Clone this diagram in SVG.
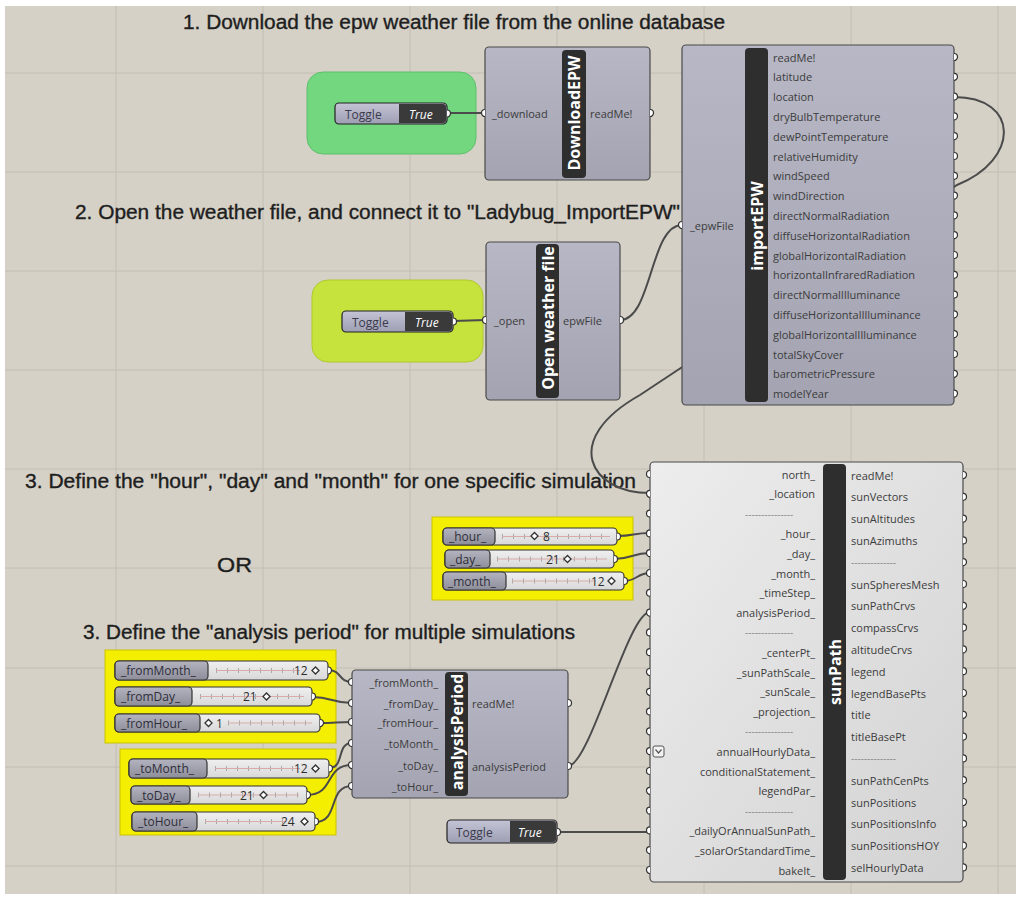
<svg xmlns="http://www.w3.org/2000/svg" width="1022" height="899" viewBox="0 0 1022 899">
<defs>
<linearGradient id="gBody" x1="0" y1="0" x2="0" y2="1"><stop offset="0" stop-color="#b7b7c5"/><stop offset="1" stop-color="#a3a3b1"/></linearGradient>
<linearGradient id="gSun" x1="0" y1="0" x2="1" y2="1"><stop offset="0" stop-color="#ededed"/><stop offset="1" stop-color="#d2d2d2"/></linearGradient>
<linearGradient id="gLab" x1="0" y1="0" x2="0" y2="1"><stop offset="0" stop-color="#b4b4c0"/><stop offset="1" stop-color="#8e8e9a"/></linearGradient>
<linearGradient id="gTog" x1="0" y1="0" x2="0" y2="1"><stop offset="0" stop-color="#c4c4d6"/><stop offset="1" stop-color="#9e9eb4"/></linearGradient>
<linearGradient id="gVal" x1="0" y1="0" x2="0" y2="1"><stop offset="0" stop-color="#f0f0f0"/><stop offset="1" stop-color="#d8d8d8"/></linearGradient>
</defs>
<style>
.bg{fill:#d5d1c7}
.grid{stroke:#c2beb3;stroke-width:1}
.h{font-family:"Liberation Sans",Arial,sans-serif;font-size:19.5px;fill:#1e1e1e;stroke:#1e1e1e;stroke-width:0.35}
.body{fill:url(#gBody);stroke:#4a4a4a;stroke-width:1.2}
.sun{fill:url(#gSun);stroke:#4a4a4a;stroke-width:1.2}
.bar{fill:#2e2e2e}
.title{font-family:"Open Sans","DejaVu Sans",sans-serif;font-size:16px;font-weight:bold;fill:#ffffff}
.t{font-family:"Open Sans","DejaVu Sans",sans-serif;font-size:11px;fill:#3c3c3c;dominant-baseline:central}
.te{font-family:"Open Sans","DejaVu Sans",sans-serif;font-size:11px;fill:#3c3c3c;dominant-baseline:central;text-anchor:end}
.sep{font-family:"Open Sans","DejaVu Sans",sans-serif;font-size:10px;fill:#8a8a8a;dominant-baseline:central}
.port{fill:#ffffff;stroke:#333333;stroke-width:1.2}
.wire{fill:none;stroke:#4b4b4b;stroke-width:2}
.tog{fill:url(#gTog);stroke:#222;stroke-width:1.2}
.togd{fill:#3a3a3a}
.togt{font-family:"Open Sans","DejaVu Sans",sans-serif;font-size:12px;fill:#3a3a4a;dominant-baseline:central}
.togv{font-family:"Open Sans","DejaVu Sans",sans-serif;font-size:12px;font-style:italic;fill:#ffffff;dominant-baseline:central}
.sl{fill:url(#gVal);stroke:#333;stroke-width:1.2}
.sll{fill:url(#gLab);stroke:#333;stroke-width:1.2}
.slt{font-family:"Open Sans","DejaVu Sans",sans-serif;font-size:12px;fill:#2e2e3a;dominant-baseline:central}
.track{stroke:#d9aaaa;stroke-width:1}
.ticks{stroke:#a8a8a8;stroke-width:5;stroke-dasharray:1 10}
.val{font-family:"Open Sans","DejaVu Sans",sans-serif;font-size:12px;fill:#2e2e2e;dominant-baseline:central}
.dia{fill:#ffffff;stroke:#333;stroke-width:1.3}
.grpY{fill:#f4ee00;stroke:#c9c300;stroke-width:1}
</style>
<rect x="0" y="0" width="1022" height="899" fill="#ffffff"/>
<rect class="bg" x="5" y="6" width="1011" height="888"/>
<g id="grid">
<line class="grid" x1="116" y1="6" x2="116" y2="894"/>
<line class="grid" x1="263" y1="6" x2="263" y2="894"/>
<line class="grid" x1="410" y1="6" x2="410" y2="894"/>
<line class="grid" x1="557" y1="6" x2="557" y2="894"/>
<line class="grid" x1="704" y1="6" x2="704" y2="894"/>
<line class="grid" x1="851" y1="6" x2="851" y2="894"/>
<line class="grid" x1="998" y1="6" x2="998" y2="894"/>
<line class="grid" x1="5" y1="73" x2="1016" y2="73"/>
<line class="grid" x1="5" y1="172" x2="1016" y2="172"/>
<line class="grid" x1="5" y1="271" x2="1016" y2="271"/>
<line class="grid" x1="5" y1="370" x2="1016" y2="370"/>
<line class="grid" x1="5" y1="469" x2="1016" y2="469"/>
<line class="grid" x1="5" y1="568" x2="1016" y2="568"/>
<line class="grid" x1="5" y1="668" x2="1016" y2="668"/>
<line class="grid" x1="5" y1="767" x2="1016" y2="767"/>
<line class="grid" x1="5" y1="866" x2="1016" y2="866"/>
</g>
<g id="headings">
<text class="h" x="183" y="29" textLength="542" lengthAdjust="spacingAndGlyphs">1. Download the epw weather file from the online database</text>
<text class="h" x="75" y="219" textLength="605" lengthAdjust="spacingAndGlyphs">2. Open the weather file, and connect it to "Ladybug_ImportEPW"</text>
<text class="h" x="25" y="488" textLength="611" lengthAdjust="spacingAndGlyphs">3. Define the "hour", "day" and "month" for one specific simulation</text>
<text class="h" x="217" y="572" style="font-size:20px" textLength="35" lengthAdjust="spacingAndGlyphs">OR</text>
<text class="h" x="83" y="639" textLength="492" lengthAdjust="spacingAndGlyphs">3. Define the "analysis period" for multiple simulations</text>
</g>
<g id="groups">
<rect x="307" y="72" width="169" height="82" rx="16" fill="#72d77f" stroke="#5fbf6c"/>
<rect x="312" y="280" width="171" height="82" rx="16" fill="#c6e23c" stroke="#afc92f"/>
<rect class="grpY" x="432" y="517" width="201" height="83"/>
<rect class="grpY" x="105" y="650" width="231" height="93"/>
<rect class="grpY" x="120" y="749" width="216" height="86"/>
</g>
<g id="connectors">
<path class="wire" d="M447,113 L485,113"/>
<path class="wire" d="M453,321 L486,320"/>
<path class="wire" d="M620,320 C652,320 650,225 682,225"/>
<path class="wire" d="M954,97 C1020,97 1020,160 957,185 L640,395 C560,440 590,493 650,493"/>
<path class="wire" d="M617,536 C634,536 633,533 650,533"/>
<path class="wire" d="M614,559 C632,559 632,553 650,553"/>
<path class="wire" d="M624,581 C637,581 637,573 650,573"/>
<path class="wire" d="M568,766 C590,766 628,612 650,612"/>
<path class="wire" d="M328,670 C342,670 338,682 352,682"/>
<path class="wire" d="M312,697 C332,697 332,703 352,703"/>
<path class="wire" d="M320,723 C336,723 336,722 352,722"/>
<path class="wire" d="M329,768 C345,768 336,743 352,743"/>
<path class="wire" d="M307,795 C335,795 324,765 352,765"/>
<path class="wire" d="M315,822 C340,822 327,786 352,786"/>
<path class="wire" d="M557,832 L650,832"/>
</g>
<g id="toggle1">
<rect class="tog" x="335" y="103" width="112" height="21" rx="4"/>
<path class="togd" d="M399,104 H443 A3,3 0 0 1 446,107 V120 A3,3 0 0 1 443,123 H399 Z"/>
<text class="togt" x="345" y="114">Toggle</text>
<text class="togv" x="409" y="114">True</text>
<path class="port" d="M447,110 A3.5,3.5 0 0 1 447,117"/>
</g>
<g id="downloadEPW">
<rect class="body" x="485" y="47" width="165" height="133" rx="4"/>
<rect class="bar" x="562" y="50" width="24" height="128" rx="4"/>
<text class="title" transform="translate(580,113) rotate(-90)" text-anchor="middle">DownloadEPW</text>
<text class="t" x="492" y="113">_download</text>
<text class="t" x="590" y="113">readMe!</text>
<path class="port" d="M485,109.5 A3.5,3.5 0 0 0 485,116.5"/>
<path class="port" d="M650,109.5 A3.5,3.5 0 0 1 650,116.5"/>
</g>
<g id="toggle2">
<rect class="tog" x="342" y="311" width="111" height="21" rx="4"/>
<path class="togd" d="M405,312 H449 A3,3 0 0 1 452,315 V328 A3,3 0 0 1 449,331 H405 Z"/>
<text class="togt" x="352" y="322">Toggle</text>
<text class="togv" x="415" y="322">True</text>
<path class="port" d="M453,318 A3.5,3.5 0 0 1 453,325"/>
</g>
<g id="openWeatherFile">
<rect class="body" x="486" y="242" width="134" height="158" rx="4"/>
<rect class="bar" x="536" y="244" width="23" height="154" rx="4"/>
<text class="title" transform="translate(553.5,318) rotate(-90)" text-anchor="middle">Open weather file</text>
<text class="t" x="494" y="320">_open</text>
<text class="t" x="563" y="320">epwFile</text>
<path class="port" d="M486,316.5 A3.5,3.5 0 0 0 486,323.5"/>
<path class="port" d="M620,316.5 A3.5,3.5 0 0 1 620,323.5"/>
</g>
<g id="importEPW">
<rect class="body" x="682" y="45" width="272" height="360" rx="4"/>
<rect class="bar" x="745" y="48" width="23" height="354" rx="4"/>
<text class="title" transform="translate(762.5,226) rotate(-90)" text-anchor="middle">importEPW</text>
<text class="t" x="690" y="225">_epwFile</text>
<path class="port" d="M682,221.5 A3.5,3.5 0 0 0 682,228.5"/>
<text class="t" x="773" y="57">readMe!</text>
<text class="t" x="773" y="76.8">latitude</text>
<text class="t" x="773" y="96.6">location</text>
<text class="t" x="773" y="116.4">dryBulbTemperature</text>
<text class="t" x="773" y="136.2">dewPointTemperature</text>
<text class="t" x="773" y="156">relativeHumidity</text>
<text class="t" x="773" y="175.8">windSpeed</text>
<text class="t" x="773" y="195.6">windDirection</text>
<text class="t" x="773" y="215.4">directNormalRadiation</text>
<text class="t" x="773" y="235.2">diffuseHorizontalRadiation</text>
<text class="t" x="773" y="255">globalHorizontalRadiation</text>
<text class="t" x="773" y="274.8">horizontalInfraredRadiation</text>
<text class="t" x="773" y="294.6">directNormalIlluminance</text>
<text class="t" x="773" y="314.4">diffuseHorizontalIlluminance</text>
<text class="t" x="773" y="334.2">globalHorizontalIlluminance</text>
<text class="t" x="773" y="354">totalSkyCover</text>
<text class="t" x="773" y="373.8">barometricPressure</text>
<text class="t" x="773" y="393.6">modelYear</text>
<g>
<path class="port" d="M954,53.5 a3.5,3.5 0 0 1 0,7"/>
<path class="port" d="M954,73.3 a3.5,3.5 0 0 1 0,7"/>
<path class="port" d="M954,93.1 a3.5,3.5 0 0 1 0,7"/>
<path class="port" d="M954,112.9 a3.5,3.5 0 0 1 0,7"/>
<path class="port" d="M954,132.7 a3.5,3.5 0 0 1 0,7"/>
<path class="port" d="M954,152.5 a3.5,3.5 0 0 1 0,7"/>
<path class="port" d="M954,172.3 a3.5,3.5 0 0 1 0,7"/>
<path class="port" d="M954,192.1 a3.5,3.5 0 0 1 0,7"/>
<path class="port" d="M954,211.9 a3.5,3.5 0 0 1 0,7"/>
<path class="port" d="M954,231.7 a3.5,3.5 0 0 1 0,7"/>
<path class="port" d="M954,251.5 a3.5,3.5 0 0 1 0,7"/>
<path class="port" d="M954,271.3 a3.5,3.5 0 0 1 0,7"/>
<path class="port" d="M954,291.1 a3.5,3.5 0 0 1 0,7"/>
<path class="port" d="M954,310.9 a3.5,3.5 0 0 1 0,7"/>
<path class="port" d="M954,330.7 a3.5,3.5 0 0 1 0,7"/>
<path class="port" d="M954,350.5 a3.5,3.5 0 0 1 0,7"/>
<path class="port" d="M954,370.3 a3.5,3.5 0 0 1 0,7"/>
<path class="port" d="M954,390.1 a3.5,3.5 0 0 1 0,7"/>
</g>
</g>
<g id="sliderHour">
<rect class="sl" x="443" y="528" width="174" height="17" rx="4"/>
<rect class="sll" x="443" y="528" width="52" height="17" rx="4"/>
<line class="ticks" x1="502" y1="536.5" x2="610" y2="536.5"/>
<line class="track" x1="502" y1="536.5" x2="610" y2="536.5"/>
<text class="slt" x="449" y="536.5">_hour_</text>
<rect class="dia" x="532" y="533.5" width="5" height="5" transform="rotate(45 534.5 536)"/>
<text class="val" x="543" y="536.5">8</text>
<path class="port" d="M617,533 a3.5,3.5 0 0 1 0,7"/>
</g>
<g id="sliderDay">
<rect class="sl" x="445" y="550" width="169" height="18" rx="4"/>
<rect class="sll" x="445" y="550" width="45" height="18" rx="4"/>
<line class="ticks" x1="497" y1="559" x2="607" y2="559"/>
<line class="track" x1="497" y1="559" x2="607" y2="559"/>
<text class="slt" x="450" y="559">_day_</text>
<text class="val" x="546" y="559">21</text>
<rect class="dia" x="565" y="556.5" width="5" height="5" transform="rotate(45 567.5 559)"/>
<path class="port" d="M614,555.5 a3.5,3.5 0 0 1 0,7"/>
</g>
<g id="sliderMonth">
<rect class="sl" x="443" y="572" width="181" height="18" rx="4"/>
<rect class="sll" x="443" y="572" width="63" height="18" rx="4"/>
<line class="ticks" x1="512" y1="581" x2="596" y2="581"/>
<line class="track" x1="512" y1="581" x2="596" y2="581"/>
<text class="slt" x="448" y="581">_month_</text>
<text class="val" x="591" y="581">12</text>
<rect class="dia" x="609" y="578.5" width="5" height="5" transform="rotate(45 611.5 581)"/>
<path class="port" d="M624,577.5 a3.5,3.5 0 0 1 0,7"/>
</g>
<g id="sliderFromMonth">
<rect class="sl" x="115" y="661" width="213" height="19" rx="4"/>
<rect class="sll" x="115" y="661" width="93" height="19" rx="4"/>
<line class="ticks" x1="216" y1="670.5" x2="300" y2="670.5"/>
<line class="track" x1="216" y1="670.5" x2="300" y2="670.5"/>
<text class="slt" x="121" y="670.5">_fromMonth_</text>
<text class="val" x="294" y="670.5">12</text>
<rect class="dia" x="313" y="668" width="5" height="5" transform="rotate(45 315.5 670.5)"/>
<path class="port" d="M328,667 a3.5,3.5 0 0 1 0,7"/>
</g>
<g id="sliderFromDay">
<rect class="sl" x="115" y="687" width="197" height="19" rx="4"/>
<rect class="sll" x="115" y="687" width="77" height="19" rx="4"/>
<line class="ticks" x1="200" y1="696.5" x2="304" y2="696.5"/>
<line class="track" x1="200" y1="696.5" x2="304" y2="696.5"/>
<text class="slt" x="121" y="696.5">_fromDay_</text>
<text class="val" x="243" y="696.5">21</text>
<rect class="dia" x="264" y="694" width="5" height="5" transform="rotate(45 266.5 696.5)"/>
<path class="port" d="M312,693 a3.5,3.5 0 0 1 0,7"/>
</g>
<g id="sliderFromHour">
<rect class="sl" x="115" y="714" width="205" height="18" rx="4"/>
<rect class="sll" x="115" y="714" width="85" height="18" rx="4"/>
<line class="ticks" x1="228" y1="723" x2="312" y2="723"/>
<line class="track" x1="228" y1="723" x2="312" y2="723"/>
<text class="slt" x="121" y="723">_fromHour_</text>
<rect class="dia" x="206" y="720.5" width="5" height="5" transform="rotate(45 208.5 723)"/>
<text class="val" x="216" y="723">1</text>
<path class="port" d="M320,719.5 a3.5,3.5 0 0 1 0,7"/>
</g>
<g id="sliderToMonth">
<rect class="sl" x="129" y="759" width="200" height="19" rx="4"/>
<rect class="sll" x="129" y="759" width="78" height="19" rx="4"/>
<line class="ticks" x1="215" y1="768.5" x2="300" y2="768.5"/>
<line class="track" x1="215" y1="768.5" x2="300" y2="768.5"/>
<text class="slt" x="135" y="768.5">_toMonth_</text>
<text class="val" x="294" y="768.5">12</text>
<rect class="dia" x="313" y="766" width="5" height="5" transform="rotate(45 315.5 768.5)"/>
<path class="port" d="M329,765 a3.5,3.5 0 0 1 0,7"/>
</g>
<g id="sliderToDay">
<rect class="sl" x="131" y="786" width="176" height="18" rx="4"/>
<rect class="sll" x="131" y="786" width="59" height="18" rx="4"/>
<line class="ticks" x1="198" y1="795" x2="299" y2="795"/>
<line class="track" x1="198" y1="795" x2="299" y2="795"/>
<text class="slt" x="137" y="795">_toDay_</text>
<text class="val" x="240" y="795">21</text>
<rect class="dia" x="261" y="792.5" width="5" height="5" transform="rotate(45 263.5 795)"/>
<path class="port" d="M307,791.5 a3.5,3.5 0 0 1 0,7"/>
</g>
<g id="sliderToHour">
<rect class="sl" x="132" y="812" width="183" height="19" rx="4"/>
<rect class="sll" x="132" y="812" width="65" height="19" rx="4"/>
<line class="ticks" x1="205" y1="821.5" x2="285" y2="821.5"/>
<line class="track" x1="205" y1="821.5" x2="285" y2="821.5"/>
<text class="slt" x="138" y="821.5">_toHour_</text>
<text class="val" x="281" y="821.5">24</text>
<rect class="dia" x="302" y="819" width="5" height="5" transform="rotate(45 304.5 821.5)"/>
<path class="port" d="M315,818 a3.5,3.5 0 0 1 0,7"/>
</g>
<g id="analysisPeriod">
<rect class="body" x="352" y="670" width="216" height="128" rx="4"/>
<rect class="bar" x="445" y="672" width="23" height="124" rx="4"/>
<text class="title" transform="translate(462.5,732) rotate(-90)" text-anchor="middle">analysisPeriod</text>
<text class="te" x="438" y="682">_fromMonth_</text>
<text class="te" x="438" y="703">_fromDay_</text>
<text class="te" x="438" y="722">_fromHour_</text>
<text class="te" x="438" y="743">_toMonth_</text>
<text class="te" x="438" y="765">_toDay_</text>
<text class="te" x="438" y="786">_toHour_</text>
<text class="t" x="472" y="703">readMe!</text>
<text class="t" x="472" y="766">analysisPeriod</text>
<path class="port" d="M352,678.5 a3.5,3.5 0 0 0 0,7"/>
<path class="port" d="M352,699.5 a3.5,3.5 0 0 0 0,7"/>
<path class="port" d="M352,718.5 a3.5,3.5 0 0 0 0,7"/>
<path class="port" d="M352,739.5 a3.5,3.5 0 0 0 0,7"/>
<path class="port" d="M352,761.5 a3.5,3.5 0 0 0 0,7"/>
<path class="port" d="M352,782.5 a3.5,3.5 0 0 0 0,7"/>
<path class="port" d="M568,699.5 a3.5,3.5 0 0 1 0,7"/>
<path class="port" d="M568,762.5 a3.5,3.5 0 0 1 0,7"/>
</g>
<g id="toggle3">
<rect class="tog" x="447" y="820" width="110" height="23" rx="4"/>
<path class="togd" d="M510,821 H553 A3,3 0 0 1 556,824 V839 A3,3 0 0 1 553,842 H510 Z"/>
<text class="togt" x="456" y="832">Toggle</text>
<text class="togv" x="518" y="832">True</text>
<path class="port" d="M557,828.5 a3.5,3.5 0 0 1 0,7"/>
</g>
<g id="sunPath">
<rect class="sun" x="650" y="462" width="313" height="420" rx="4"/>
<rect class="bar" x="823" y="464" width="23" height="416" rx="4"/>
<text class="title" transform="translate(840.5,672) rotate(-90)" text-anchor="middle">sunPath</text>
<text class="te" x="815" y="474">north_</text>
<text class="te" x="815" y="493.8">_location</text>
<text class="sep" x="745" y="513.6">---------------</text>
<text class="te" x="815" y="533.4">_hour_</text>
<text class="te" x="815" y="553.2">_day_</text>
<text class="te" x="815" y="573">_month_</text>
<text class="te" x="815" y="592.8">_timeStep_</text>
<text class="te" x="815" y="612.6">analysisPeriod_</text>
<text class="sep" x="745" y="632.4">---------------</text>
<text class="te" x="815" y="652.2">_centerPt_</text>
<text class="te" x="815" y="672">_sunPathScale_</text>
<text class="te" x="815" y="691.8">_sunScale_</text>
<text class="te" x="815" y="711.6">_projection_</text>
<text class="sep" x="745" y="731.4">---------------</text>
<text class="te" x="815" y="751.2">annualHourlyData_</text>
<text class="te" x="815" y="771">conditionalStatement_</text>
<text class="te" x="815" y="790.8">legendPar_</text>
<text class="sep" x="745" y="810.6">---------------</text>
<text class="te" x="815" y="830.4">_dailyOrAnnualSunPath_</text>
<text class="te" x="815" y="850.2">_solarOrStandardTime_</text>
<text class="te" x="815" y="870">bakeIt_</text>
<rect x="653" y="746" width="11" height="11" rx="2" fill="#f2f2f2" stroke="#555" stroke-width="1"/>
<path d="M655.5,749.5 L658.5,753 L661.5,749.5" fill="none" stroke="#555" stroke-width="1.2"/>
<text class="t" x="851" y="475">readMe!</text>
<text class="t" x="851" y="496.8">sunVectors</text>
<text class="t" x="851" y="518.6">sunAltitudes</text>
<text class="t" x="851" y="540.4">sunAzimuths</text>
<text class="sep" x="851" y="562.2">--------------</text>
<text class="t" x="851" y="584">sunSpheresMesh</text>
<text class="t" x="851" y="605.8">sunPathCrvs</text>
<text class="t" x="851" y="627.6">compassCrvs</text>
<text class="t" x="851" y="649.4">altitudeCrvs</text>
<text class="t" x="851" y="671.2">legend</text>
<text class="t" x="851" y="693">legendBasePts</text>
<text class="t" x="851" y="714.8">title</text>
<text class="t" x="851" y="736.6">titleBasePt</text>
<text class="sep" x="851" y="758.4">--------------</text>
<text class="t" x="851" y="780.2">sunPathCenPts</text>
<text class="t" x="851" y="802">sunPositions</text>
<text class="t" x="851" y="823.8">sunPositionsInfo</text>
<text class="t" x="851" y="845.6">sunPositionsHOY</text>
<text class="t" x="851" y="867.4">selHourlyData</text>
<g>
<path class="port" d="M650,470.5 a3.5,3.5 0 0 0 0,7"/>
<path class="port" d="M650,490.3 a3.5,3.5 0 0 0 0,7"/>
<path class="port" d="M650,510.1 a3.5,3.5 0 0 0 0,7"/>
<path class="port" d="M650,529.9 a3.5,3.5 0 0 0 0,7"/>
<path class="port" d="M650,549.7 a3.5,3.5 0 0 0 0,7"/>
<path class="port" d="M650,569.5 a3.5,3.5 0 0 0 0,7"/>
<path class="port" d="M650,589.3 a3.5,3.5 0 0 0 0,7"/>
<path class="port" d="M650,609.1 a3.5,3.5 0 0 0 0,7"/>
<path class="port" d="M650,628.9 a3.5,3.5 0 0 0 0,7"/>
<path class="port" d="M650,648.7 a3.5,3.5 0 0 0 0,7"/>
<path class="port" d="M650,668.5 a3.5,3.5 0 0 0 0,7"/>
<path class="port" d="M650,688.3 a3.5,3.5 0 0 0 0,7"/>
<path class="port" d="M650,708.1 a3.5,3.5 0 0 0 0,7"/>
<path class="port" d="M650,727.9 a3.5,3.5 0 0 0 0,7"/>
<path class="port" d="M650,747.7 a3.5,3.5 0 0 0 0,7"/>
<path class="port" d="M650,767.5 a3.5,3.5 0 0 0 0,7"/>
<path class="port" d="M650,787.3 a3.5,3.5 0 0 0 0,7"/>
<path class="port" d="M650,807.1 a3.5,3.5 0 0 0 0,7"/>
<path class="port" d="M650,826.9 a3.5,3.5 0 0 0 0,7"/>
<path class="port" d="M650,846.7 a3.5,3.5 0 0 0 0,7"/>
<path class="port" d="M650,866.5 a3.5,3.5 0 0 0 0,7"/>
</g>
<g>
<path class="port" d="M963,471.5 a3.5,3.5 0 0 1 0,7"/>
<path class="port" d="M963,493.3 a3.5,3.5 0 0 1 0,7"/>
<path class="port" d="M963,515.1 a3.5,3.5 0 0 1 0,7"/>
<path class="port" d="M963,536.9 a3.5,3.5 0 0 1 0,7"/>
<path class="port" d="M963,558.7 a3.5,3.5 0 0 1 0,7"/>
<path class="port" d="M963,580.5 a3.5,3.5 0 0 1 0,7"/>
<path class="port" d="M963,602.3 a3.5,3.5 0 0 1 0,7"/>
<path class="port" d="M963,624.1 a3.5,3.5 0 0 1 0,7"/>
<path class="port" d="M963,645.9 a3.5,3.5 0 0 1 0,7"/>
<path class="port" d="M963,667.7 a3.5,3.5 0 0 1 0,7"/>
<path class="port" d="M963,689.5 a3.5,3.5 0 0 1 0,7"/>
<path class="port" d="M963,711.3 a3.5,3.5 0 0 1 0,7"/>
<path class="port" d="M963,733.1 a3.5,3.5 0 0 1 0,7"/>
<path class="port" d="M963,754.9 a3.5,3.5 0 0 1 0,7"/>
<path class="port" d="M963,776.7 a3.5,3.5 0 0 1 0,7"/>
<path class="port" d="M963,798.5 a3.5,3.5 0 0 1 0,7"/>
<path class="port" d="M963,820.3 a3.5,3.5 0 0 1 0,7"/>
<path class="port" d="M963,842.1 a3.5,3.5 0 0 1 0,7"/>
<path class="port" d="M963,863.9 a3.5,3.5 0 0 1 0,7"/>
</g>
</g>
</svg>
